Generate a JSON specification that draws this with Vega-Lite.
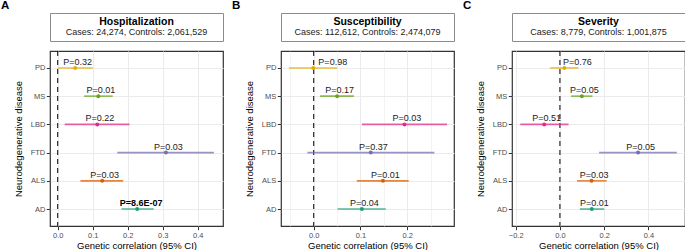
{
  "$schema": "https://vega.github.io/schema/vega-lite/v6.json",
  "padding": {"left": 1, "top": 0, "right": 0, "bottom": 0},
  "config": {
    "font": "Liberation Sans",
    "view": {"stroke": "#333333", "strokeWidth": 1.2},
    "axis": {"labelFontSize": 7.5, "labelColor": "#4D4D4D", "tickColor": "#333333", "tickSize": 3.7, "tickWidth": 1, "domain": false, "gridColor": "#EBEBEB", "gridWidth": 1, "titleFontSize": 9.5, "titleFontWeight": "normal", "titleColor": "#000000", "labelPadding": 1.5, "titlePadding": 2, "labelOverlap": false},
    "axisY": {"titlePadding": 7},
    "title": {"fontSize": 11.5, "fontWeight": "bold", "anchor": "start", "frame": "bounds", "offset": 1, "dx": -11.5, "color": "#000000"}
  },
  "datasets": {
    "rg": [
      {"panel": "Hospitalization", "disease": "PD", "est": 0.050, "lo": 0.000, "hi": 0.100, "p": "P=0.32", "bold": false},
      {"panel": "Hospitalization", "disease": "MS", "est": 0.116, "lo": 0.075, "hi": 0.157, "p": "P=0.01", "bold": false},
      {"panel": "Hospitalization", "disease": "LBD", "est": 0.113, "lo": 0.020, "hi": 0.205, "p": "P=0.22", "bold": false},
      {"panel": "Hospitalization", "disease": "FTD", "est": 0.309, "lo": 0.170, "hi": 0.446, "p": "P=0.03", "bold": false},
      {"panel": "Hospitalization", "disease": "ALS", "est": 0.127, "lo": 0.065, "hi": 0.187, "p": "P=0.03", "bold": false},
      {"panel": "Hospitalization", "disease": "AD", "est": 0.227, "lo": 0.182, "hi": 0.274, "p": "P=8.6E-07", "bold": true},
      {"panel": "Susceptibility", "disease": "PD", "est": -0.001, "lo": -0.053, "hi": 0.050, "p": "P=0.98", "bold": false},
      {"panel": "Susceptibility", "disease": "MS", "est": 0.050, "lo": 0.0135, "hi": 0.086, "p": "P=0.17", "bold": false},
      {"panel": "Susceptibility", "disease": "LBD", "est": 0.194, "lo": 0.103, "hi": 0.285, "p": "P=0.03", "bold": false},
      {"panel": "Susceptibility", "disease": "FTD", "est": 0.122, "lo": -0.0135, "hi": 0.258, "p": "P=0.37", "bold": false},
      {"panel": "Susceptibility", "disease": "ALS", "est": 0.148, "lo": 0.092, "hi": 0.203, "p": "P=0.01", "bold": false},
      {"panel": "Susceptibility", "disease": "AD", "est": 0.103, "lo": 0.051, "hi": 0.154, "p": "P=0.04", "bold": false},
      {"panel": "Severity", "disease": "PD", "est": 0.020, "lo": -0.044, "hi": 0.084, "p": "P=0.76", "bold": false},
      {"panel": "Severity", "disease": "MS", "est": 0.099, "lo": 0.050, "hi": 0.147, "p": "P=0.05", "bold": false},
      {"panel": "Severity", "disease": "LBD", "est": -0.071, "lo": -0.179, "hi": 0.039, "p": "P=0.51", "bold": false},
      {"panel": "Severity", "disease": "FTD", "est": 0.353, "lo": 0.177, "hi": 0.528, "p": "P=0.05", "bold": false},
      {"panel": "Severity", "disease": "ALS", "est": 0.143, "lo": 0.077, "hi": 0.211, "p": "P=0.03", "bold": false},
      {"panel": "Severity", "disease": "AD", "est": 0.144, "lo": 0.090, "hi": 0.200, "p": "P=0.01", "bold": false}
    ]
  },
  "spacing": 8,
  "hconcat": [
    {
      "title": {"text": "A"},
      "spacing": 7,
      "vconcat": [
        {
          "width": 173, "height": 28,
          "view": {"stroke": "#8C8C8C", "strokeWidth": 1},
          "data": {"values": [{"line": 1, "label": "Hospitalization"}, {"line": 2, "label": "Cases: 24,274, Controls: 2,061,529"}]},
          "encoding": {"y": {"field": "line", "type": "ordinal", "scale": {"type": "point", "domain": [1, 2], "padding": 0.92}, "axis": null}, "text": {"field": "label"}},
          "layer": [
            {"transform": [{"filter": "datum.line == 1"}], "mark": {"type": "text", "fontSize": 10.5, "fontWeight": "bold", "baseline": "middle", "color": "#000000"}},
            {"transform": [{"filter": "datum.line == 2"}], "mark": {"type": "text", "fontSize": 9, "baseline": "middle", "color": "#1A1A1A"}}
          ]
        },
        {
          "width": 173, "height": 175,
          "data": {"name": "rg"},
          "transform": [{"filter": "datum.panel == 'Hospitalization'"}],
          "layer": [
            {
              "data": {"values": [{"z": 0}]},
              "mark": {"type": "rule", "strokeDash": [5, 4], "color": "#000000", "strokeWidth": 1},
              "encoding": {"x": {"field": "z", "type": "quantitative"}}
            },
            {
              "mark": {"type": "rule", "strokeWidth": 1.6, "opacity": 0.75},
              "encoding": {
                "x": {"field": "lo", "type": "quantitative",
                  "scale": {"domain": [-0.022, 0.472], "zero": false, "nice": false},
                  "axis": {"title": "Genetic correlation (95% CI)", "labelOverlap": false, "format": ".1f",
                    "values": [0, 0.05, 0.1, 0.15, 0.2, 0.25, 0.3, 0.35, 0.4, 0.45],
                    "labelOpacity": {"condition": {"test": "abs(datum.value*10 - round(datum.value*10)) < 0.001", "value": 1}, "value": 0},
                    "tickOpacity": {"condition": {"test": "abs(datum.value*10 - round(datum.value*10)) < 0.001", "value": 1}, "value": 0},
                    "gridWidth": {"condition": {"test": "abs(datum.value*10 - round(datum.value*10)) < 0.001", "value": 1}, "value": 0.6}}},
                "x2": {"field": "hi"},
                "y": {"field": "disease", "type": "nominal", "sort": ["PD", "MS", "LBD", "FTD", "ALS", "AD"], "scale": {"type": "point", "padding": 0.6}, "axis": {"title": "Neurodegenerative disease", "grid": true}},
                "color": {"field": "disease", "type": "nominal", "scale": {"domain": ["AD", "ALS", "FTD", "LBD", "MS", "PD"], "range": ["#1B9E77", "#D95F02", "#7570B3", "#E7298A", "#66A61E", "#E6AB02"]}, "legend": null}
              }
            },
            {
              "mark": {"type": "point", "filled": true, "size": 16, "opacity": 1},
              "encoding": {"x": {"field": "est", "type": "quantitative"}, "y": {"field": "disease", "type": "nominal", "sort": ["PD", "MS", "LBD", "FTD", "ALS", "AD"]}, "color": {"field": "disease", "type": "nominal", "legend": null}}
            },
            {
              "transform": [{"filter": "!datum.bold"}],
              "mark": {"type": "text", "fontSize": 9, "color": "#1A1A1A", "baseline": "alphabetic", "dy": -3, "dx": 2.5},
              "encoding": {"x": {"field": "est", "type": "quantitative"}, "y": {"field": "disease", "type": "nominal", "sort": ["PD", "MS", "LBD", "FTD", "ALS", "AD"]}, "text": {"field": "p"}}
            },
            {
              "transform": [{"filter": "datum.bold"}],
              "mark": {"type": "text", "fontSize": 9, "fontWeight": "bold", "color": "#000000", "baseline": "alphabetic", "dy": -3, "dx": 4},
              "encoding": {"x": {"field": "est", "type": "quantitative"}, "y": {"field": "disease", "type": "nominal", "sort": ["PD", "MS", "LBD", "FTD", "ALS", "AD"]}, "text": {"field": "p"}}
            }
          ]
        }
      ]
    },
    {
      "title": {"text": "B"},
      "spacing": 7,
      "vconcat": [
        {
          "width": 173, "height": 28,
          "view": {"stroke": "#8C8C8C", "strokeWidth": 1},
          "data": {"values": [{"line": 1, "label": "Susceptibility"}, {"line": 2, "label": "Cases: 112,612, Controls: 2,474,079"}]},
          "encoding": {"y": {"field": "line", "type": "ordinal", "scale": {"type": "point", "domain": [1, 2], "padding": 0.92}, "axis": null}, "text": {"field": "label"}},
          "layer": [
            {"transform": [{"filter": "datum.line == 1"}], "mark": {"type": "text", "fontSize": 10.5, "fontWeight": "bold", "baseline": "middle", "color": "#000000"}},
            {"transform": [{"filter": "datum.line == 2"}], "mark": {"type": "text", "fontSize": 9, "baseline": "middle", "color": "#1A1A1A"}}
          ]
        },
        {
          "width": 173, "height": 175,
          "data": {"name": "rg"},
          "transform": [{"filter": "datum.panel == 'Susceptibility'"}],
          "resolve": {"axis": {"x": "independent"}},
          "layer": [
            {
              "data": {"values": [{"z": 0}]},
              "mark": {"type": "rule", "strokeDash": [5, 4], "color": "#000000", "strokeWidth": 1},
              "encoding": {"x": {"field": "z", "type": "quantitative",
                "axis": {"orient": "top", "title": null, "values": [-0.05, 0.05, 0.15, 0.25], "labels": false, "ticks": false, "domain": false, "grid": true, "gridWidth": 0.6, "minExtent": 0, "maxExtent": 0, "offset": 0}}}
            },
            {
              "mark": {"type": "rule", "strokeWidth": 1.6, "opacity": 0.75},
              "encoding": {
                "x": {"field": "lo", "type": "quantitative",
                  "scale": {"domain": [-0.070, 0.300], "zero": false, "nice": false},
                  "axis": {"orient": "bottom", "title": "Genetic correlation (95% CI)", "labelOverlap": false, "format": ".1f",
                    "values": [0, 0.1, 0.2], "grid": true, "gridWidth": 1}},
                "x2": {"field": "hi"},
                "y": {"field": "disease", "type": "nominal", "sort": ["PD", "MS", "LBD", "FTD", "ALS", "AD"], "scale": {"type": "point", "padding": 0.6}, "axis": {"title": "Neurodegenerative disease", "grid": true}},
                "color": {"field": "disease", "type": "nominal", "scale": {"domain": ["AD", "ALS", "FTD", "LBD", "MS", "PD"], "range": ["#1B9E77", "#D95F02", "#7570B3", "#E7298A", "#66A61E", "#E6AB02"]}, "legend": null}
              }
            },
            {
              "mark": {"type": "point", "filled": true, "size": 16, "opacity": 1},
              "encoding": {"x": {"field": "est", "type": "quantitative", "axis": null}, "y": {"field": "disease", "type": "nominal", "sort": ["PD", "MS", "LBD", "FTD", "ALS", "AD"]}, "color": {"field": "disease", "type": "nominal", "legend": null}}
            },
            {
              "transform": [{"filter": "datum.disease != 'PD'"}],
              "mark": {"type": "text", "fontSize": 9, "color": "#1A1A1A", "baseline": "alphabetic", "dy": -3, "dx": 2.5},
              "encoding": {"x": {"field": "est", "type": "quantitative", "axis": null}, "y": {"field": "disease", "type": "nominal", "sort": ["PD", "MS", "LBD", "FTD", "ALS", "AD"]}, "text": {"field": "p"}}
            },
            {
              "transform": [{"filter": "datum.disease == 'PD'"}],
              "mark": {"type": "text", "fontSize": 9, "color": "#1A1A1A", "baseline": "alphabetic", "dy": -3, "dx": 19.5},
              "encoding": {"x": {"field": "est", "type": "quantitative", "axis": null}, "y": {"field": "disease", "type": "nominal", "sort": ["PD", "MS", "LBD", "FTD", "ALS", "AD"]}, "text": {"field": "p"}}
            }
          ]
        }
      ]
    },
    {
      "title": {"text": "C"},
      "spacing": 7,
      "vconcat": [
        {
          "width": 173, "height": 28,
          "view": {"stroke": "#8C8C8C", "strokeWidth": 1},
          "data": {"values": [{"line": 1, "label": "Severity"}, {"line": 2, "label": "Cases: 8,779, Controls: 1,001,875"}]},
          "encoding": {"y": {"field": "line", "type": "ordinal", "scale": {"type": "point", "domain": [1, 2], "padding": 0.92}, "axis": null}, "text": {"field": "label"}},
          "layer": [
            {"transform": [{"filter": "datum.line == 1"}], "mark": {"type": "text", "fontSize": 10.5, "fontWeight": "bold", "baseline": "middle", "color": "#000000"}},
            {"transform": [{"filter": "datum.line == 2"}], "mark": {"type": "text", "fontSize": 9, "baseline": "middle", "color": "#1A1A1A"}}
          ]
        },
        {
          "width": 173, "height": 175,
          "data": {"name": "rg"},
          "transform": [{"filter": "datum.panel == 'Severity'"}],
          "layer": [
            {
              "data": {"values": [{"z": 0}]},
              "mark": {"type": "rule", "strokeDash": [5, 4], "color": "#000000", "strokeWidth": 1},
              "encoding": {"x": {"field": "z", "type": "quantitative"}}
            },
            {
              "mark": {"type": "rule", "strokeWidth": 1.6, "opacity": 0.75},
              "encoding": {
                "x": {"field": "lo", "type": "quantitative",
                  "scale": {"domain": [-0.2165, 0.565], "zero": false, "nice": false},
                  "axis": {"title": "Genetic correlation (95% CI)", "labelOverlap": false, "format": ".1f",
                    "values": [-0.2, -0.1, 0, 0.1, 0.2, 0.3, 0.4, 0.5],
                    "labelOpacity": {"condition": {"test": "abs(datum.value*5 - round(datum.value*5)) < 0.001", "value": 1}, "value": 0},
                    "tickOpacity": {"condition": {"test": "abs(datum.value*5 - round(datum.value*5)) < 0.001", "value": 1}, "value": 0},
                    "gridWidth": {"condition": {"test": "abs(datum.value*5 - round(datum.value*5)) < 0.001", "value": 1}, "value": 0.6}}},
                "x2": {"field": "hi"},
                "y": {"field": "disease", "type": "nominal", "sort": ["PD", "MS", "LBD", "FTD", "ALS", "AD"], "scale": {"type": "point", "padding": 0.6}, "axis": {"title": "Neurodegenerative disease", "grid": true}},
                "color": {"field": "disease", "type": "nominal", "scale": {"domain": ["AD", "ALS", "FTD", "LBD", "MS", "PD"], "range": ["#1B9E77", "#D95F02", "#7570B3", "#E7298A", "#66A61E", "#E6AB02"]}, "legend": null}
              }
            },
            {
              "mark": {"type": "point", "filled": true, "size": 16, "opacity": 1},
              "encoding": {"x": {"field": "est", "type": "quantitative"}, "y": {"field": "disease", "type": "nominal", "sort": ["PD", "MS", "LBD", "FTD", "ALS", "AD"]}, "color": {"field": "disease", "type": "nominal", "legend": null}}
            },
            {
              "transform": [{"filter": "datum.disease != 'PD'"}],
              "mark": {"type": "text", "fontSize": 9, "color": "#1A1A1A", "baseline": "alphabetic", "dy": -3, "dx": 2.5},
              "encoding": {"x": {"field": "est", "type": "quantitative"}, "y": {"field": "disease", "type": "nominal", "sort": ["PD", "MS", "LBD", "FTD", "ALS", "AD"]}, "text": {"field": "p"}}
            },
            {
              "transform": [{"filter": "datum.disease == 'PD'"}],
              "mark": {"type": "text", "fontSize": 9, "color": "#1A1A1A", "baseline": "alphabetic", "dy": -3, "dx": 13},
              "encoding": {"x": {"field": "est", "type": "quantitative"}, "y": {"field": "disease", "type": "nominal", "sort": ["PD", "MS", "LBD", "FTD", "ALS", "AD"]}, "text": {"field": "p"}}
            }
          ]
        }
      ]
    }
  ]
}
